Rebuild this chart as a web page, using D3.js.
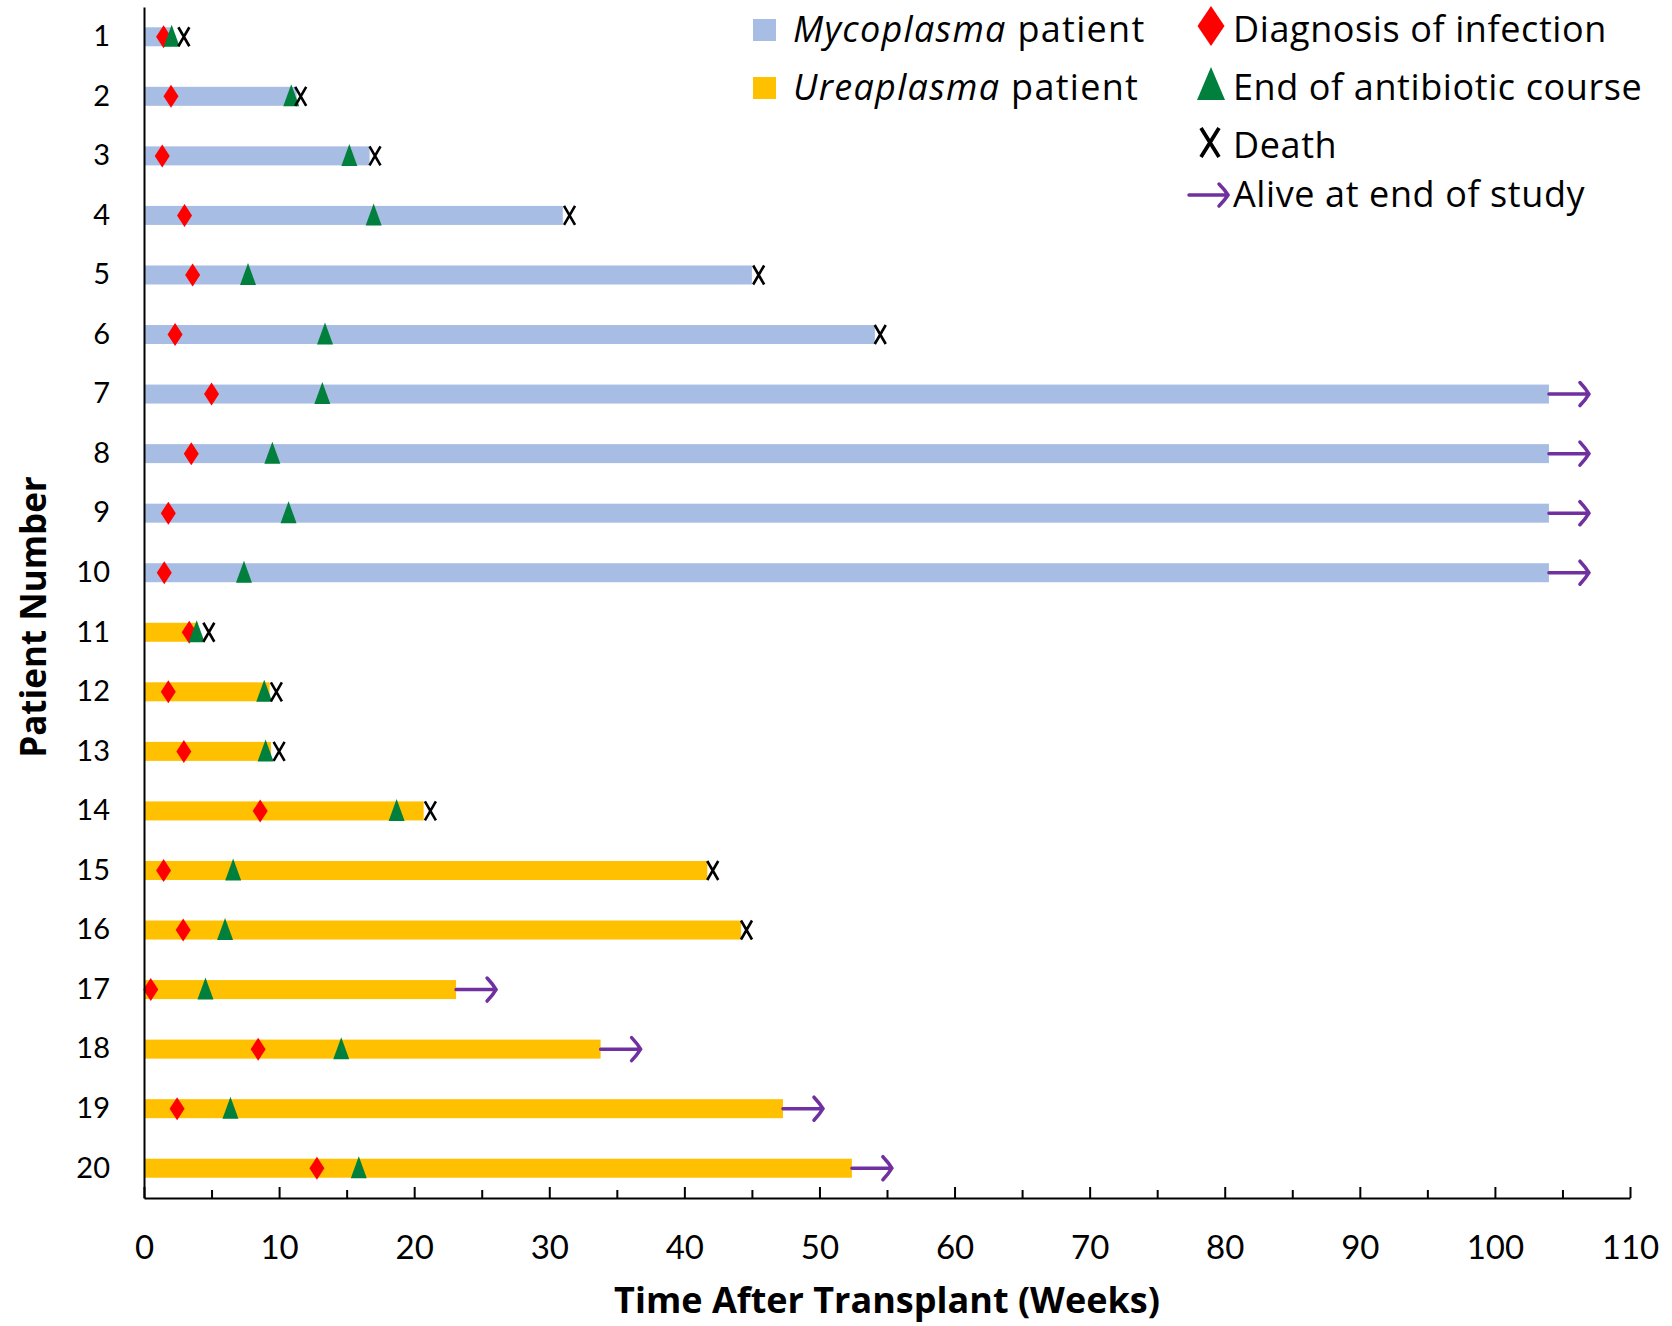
<!DOCTYPE html>
<html>
<head>
<meta charset="utf-8">
<script src="https://cdn.jsdelivr.net/npm/d3@7"></script>
<style>
  body { margin: 0; background: #fff; }
  svg { display: block; font-family: "Open Sans", Lato, sans-serif; }
</style>
</head>
<body>
<svg id="chart"></svg>
<script>
// patient rows, top to bottom
var patients = d3.range(1, 21);
var organism = ["Mycoplasma", "Mycoplasma", "Mycoplasma", "Mycoplasma", "Mycoplasma",
                "Mycoplasma", "Mycoplasma", "Mycoplasma", "Mycoplasma", "Mycoplasma",
                "Ureaplasma", "Ureaplasma", "Ureaplasma", "Ureaplasma", "Ureaplasma",
                "Ureaplasma", "Ureaplasma", "Ureaplasma", "Ureaplasma", "Ureaplasma"];
// weeks after transplant
var diagnosisWeek = [1.45, 2.0, 1.35, 3.0, 3.6, 2.3, 5.0, 3.5, 1.8, 1.5,
                     3.35, 1.8, 2.95, 8.6, 1.45, 2.9, 0.5, 8.45, 2.45, 12.8];
var antibioticEndWeek = [2.05, 10.9, 15.2, 17.0, 7.7, 13.4, 13.2, 9.5, 10.7, 7.4,
                         3.9, 8.9, 9.0, 18.7, 6.6, 6.0, 4.55, 14.6, 6.4, 15.9];
var followUpWeek = [2.1, 11.3, 16.7, 31.0, 45.0, 54.1, 104, 104, 104, 104,
                    4.0, 9.3, 9.4, 20.7, 41.7, 44.2, 23.1, 33.8, 47.3, 52.4];
var deathWeek = [2.95, 11.6, 17.1, 31.5, 45.5, 54.5, null, null, null, null,
                 4.8, 9.8, 10.0, 21.2, 42.1, 44.6, null, null, null, null];
var xTicks = d3.range(0, 111, 5);

var colors = {Mycoplasma: "#A8BDE3", Ureaplasma: "#FFC000"};
var red = "#FF0000", green = "#00803C", purple = "#7030A0";

var W = 1672, H = 1326;
var margin = {top: 7, right: 42, bottom: 128, left: 144},
    width = W - margin.left - margin.right,
    height = H - margin.top - margin.bottom;

var rows = patients.map(function(p, i) {
  return {patient: p, organism: organism[i], diagnosis: diagnosisWeek[i],
          abxEnd: antibioticEndWeek[i], end: followUpWeek[i], death: deathWeek[i]};
});

var svg = d3.select("#chart").attr("width", W).attr("height", H);
var g = svg.append("g").attr("transform", "translate(" + margin.left + "," + margin.top + ")");

var x = d3.scaleLinear().domain([0, 110]).range([0, width]);
var y = d3.scaleBand().domain(patients).range([0, height]);
var barH = 19;

// marker shapes
var diamondPath = function(w, h) { return "M0," + (-h) + "L" + w + ",0L0," + h + "L" + (-w) + ",0Z"; };
var trianglePath = function(w, h) { return "M0," + (-h) + "L" + w + "," + h + "L" + (-w) + "," + h + "Z"; };
var crossPath = function(w, h) { return "M" + (-w) + "," + (-h) + "L" + w + "," + h + "M" + w + "," + (-h) + "L" + (-w) + "," + h; };
var arrowPath = function(len, hw) {
  return "M0,0H" + (len - 1.5) + "M" + (len - 9) + "," + (-hw) + "Q" + (len - 3) + "," + (-hw * 0.45) + " " + len + ",0" +
         "Q" + (len - 3) + "," + (hw * 0.45) + " " + (len - 9) + "," + hw;
};

// bars
g.selectAll(".bar").data(rows).enter().append("rect")
  .attr("class", "bar")
  .attr("x", x(0))
  .attr("y", function(d) { return y(d.patient) + y.bandwidth() / 2 - barH / 2; })
  .attr("width", function(d) { return x(d.end) - x(0); })
  .attr("height", barH)
  .attr("fill", function(d) { return colors[d.organism]; });

// alive arrows
g.selectAll(".alive").data(rows.filter(function(d) { return d.death === null; })).enter().append("path")
  .attr("class", "alive")
  .attr("transform", function(d) { return "translate(" + x(d.end) + "," + (y(d.patient) + y.bandwidth() / 2) + ")"; })
  .attr("d", arrowPath(40, 11.5))
  .attr("fill", "none").attr("stroke", purple).attr("stroke-width", 3.5).attr("stroke-linecap", "round");

// diagnosis
g.selectAll(".diag").data(rows).enter().append("path")
  .attr("transform", function(d) { return "translate(" + x(d.diagnosis) + "," + (y(d.patient) + y.bandwidth() / 2) + ")"; })
  .attr("d", diamondPath(7.5, 11.5)).attr("fill", red);

// end of antibiotics
g.selectAll(".abx").data(rows).enter().append("path")
  .attr("transform", function(d) { return "translate(" + x(d.abxEnd) + "," + (y(d.patient) + y.bandwidth() / 2 - 1) + ")"; })
  .attr("d", trianglePath(8, 11)).attr("fill", green);

// death
g.selectAll(".death").data(rows.filter(function(d) { return d.death !== null; })).enter().append("path")
  .attr("transform", function(d) { return "translate(" + x(d.death) + "," + (y(d.patient) + y.bandwidth() / 2) + ")"; })
  .attr("d", crossPath(5.5, 9.5)).attr("fill", "none").attr("stroke", "#000").attr("stroke-width", 2.6);

// x axis
var xAxis = g.append("g")
  .attr("transform", "translate(0," + height + ")")
  .call(d3.axisBottom(x).tickValues(xTicks).tickSize(-8).tickSizeOuter(0).tickPadding(38)
        .tickFormat(function(d) { return d % 10 === 0 ? d : ""; }));
xAxis.select(".domain").attr("stroke", "#000").attr("stroke-width", 2);
xAxis.selectAll(".tick line").attr("stroke", "#000").attr("stroke-width", 2)
  .attr("y2", function(d) { return d % 10 === 0 ? -11 : -8; });
xAxis.selectAll(".tick text").attr("font-size", 33).attr("fill", "#000").attr("font-family", "Lato, sans-serif");

// y axis
var yAxis = g.append("g")
  .call(d3.axisLeft(y).tickSize(0).tickPadding(34));
yAxis.select(".domain").attr("stroke", "#000").attr("stroke-width", 2);
yAxis.selectAll(".tick text").attr("font-size", 29).attr("fill", "#000").attr("font-family", "Lato, sans-serif");

// axis titles
svg.append("text")
  .attr("x", margin.left + width / 2).attr("y", 1313)
  .attr("text-anchor", "middle").attr("font-size", 36).attr("font-weight", "bold")
  .text("Time After Transplant (Weeks)");
svg.append("text")
  .attr("transform", "translate(46,617) rotate(-90)")
  .attr("text-anchor", "middle").attr("font-size", 35).attr("font-weight", "bold")
  .text("Patient Number");

// legend: patient groups
var groupLegend = svg.append("g");
["Mycoplasma", "Ureaplasma"].forEach(function(name, i) {
  var by = 42 + i * 58;
  groupLegend.append("rect").attr("x", 753).attr("y", by - 23).attr("width", 23).attr("height", 22)
    .attr("fill", colors[name]);
  var t = groupLegend.append("text").attr("x", 793).attr("y", by)
    .attr("font-size", 36).attr("letter-spacing", 1.3);
  t.append("tspan").attr("font-style", "italic").text(name);
  t.append("tspan").text(" patient");
});

// legend: events
var eventLegend = svg.append("g");
var ev = [
  {label: "Diagnosis of infection", base: 42},
  {label: "End of antibiotic course", base: 100},
  {label: "Death", base: 158},
  {label: "Alive at end of study", base: 207}
];
eventLegend.append("path").attr("transform", "translate(1211,26)").attr("d", diamondPath(13.5, 20)).attr("fill", red);
eventLegend.append("path").attr("transform", "translate(1211,83.5)").attr("d", trianglePath(14, 16.5)).attr("fill", green);
eventLegend.append("path").attr("transform", "translate(1210,142.5)").attr("d", crossPath(9, 14.5))
  .attr("fill", "none").attr("stroke", "#000").attr("stroke-width", 3.8);
eventLegend.append("path").attr("transform", "translate(1189,195)").attr("d", arrowPath(39, 11))
  .attr("fill", "none").attr("stroke", purple).attr("stroke-width", 3.5).attr("stroke-linecap", "round");
eventLegend.selectAll("text").data(ev).enter().append("text")
  .attr("x", 1233).attr("y", function(d) { return d.base; })
  .attr("font-size", 36).attr("letter-spacing", 0.6).text(function(d) { return d.label; });
</script>
</body>
</html>
